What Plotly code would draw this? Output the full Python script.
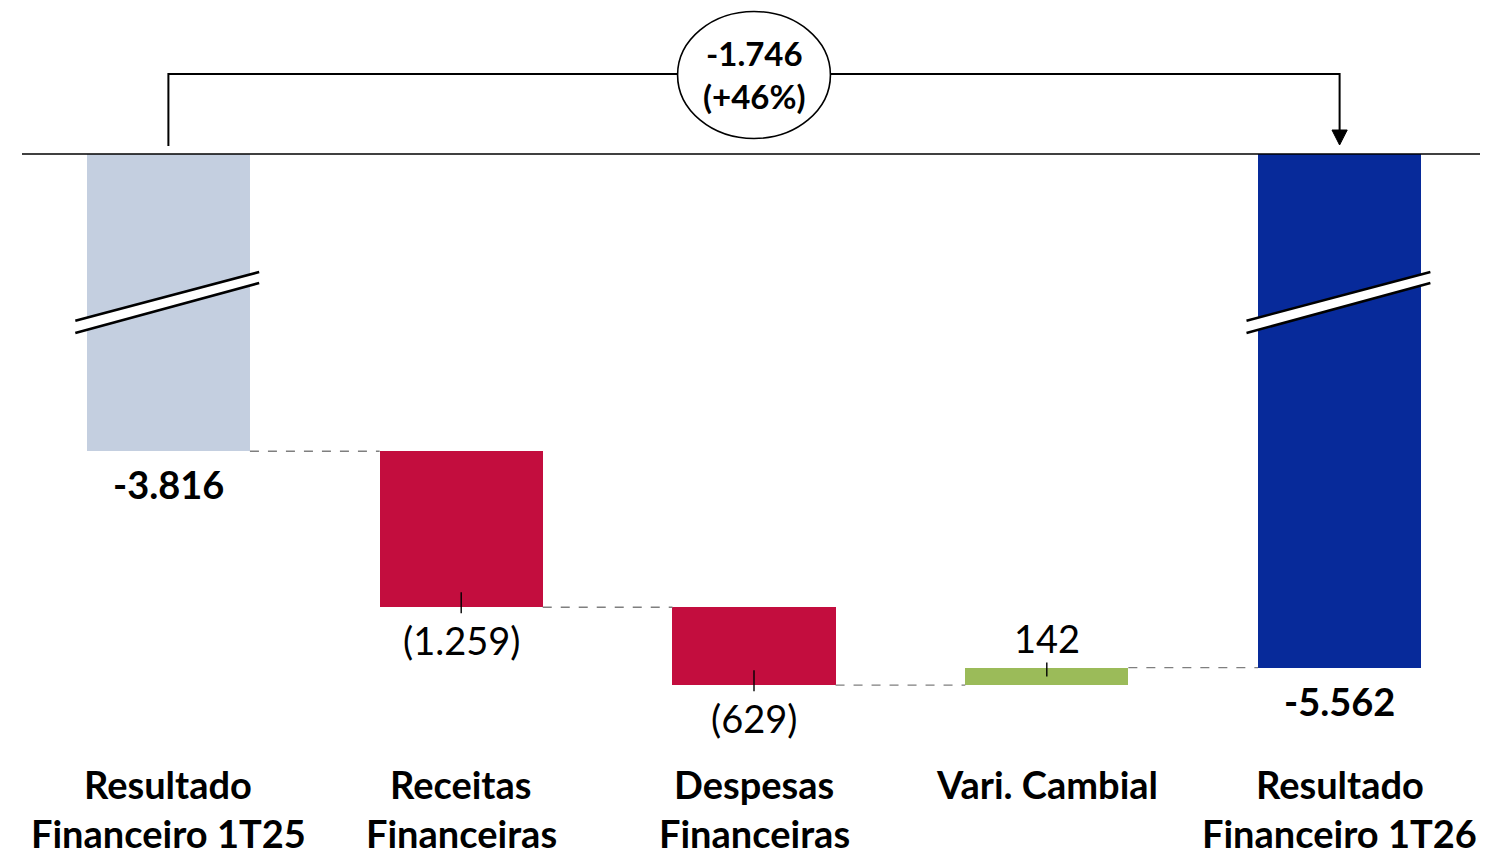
import plotly.graph_objects as go

# ---- data ----
categories = ["Resultado\nFinanceiro 1T25", "Receitas\nFinanceiras", "Despesas\nFinanceiras",
              "Vari. Cambial", "Resultado\nFinanceiro 1T26"]
start_total = -3816
deltas = [-1259, -629, 142]
end_total = -5562
value_labels = ["-3.816", "(1.259)", "(629)", "142", "-5.562"]
change_label = "-1.746<br>(+46%)"

colors = ["#C4CFE0", "#C30D3E", "#C30D3E", "#9BBB59", "#072A9A"]

# ---- axis break (hidden part of the total bars) ----
BREAK = 1417

OFF = 8  # page body margin
W, H = 1488 - OFF, 853 - OFF
ML, MR = 22 - OFF, 2
PX_PER_UNIT = 0.1239
ZERO_PX = 154 - OFF
y_max = ZERO_PX / PX_PER_UNIT
y_min = y_max - H / PX_PER_UNIT

def pp(p):  # page pixel row -> paper y
    return 1 - (p - OFF) / H

bar_w = 0.557

# build waterfall geometry from data
bases, heights = [], []
bases.append(0)
heights.append(start_total + BREAK)
level = start_total
levels = [level]
for d in deltas:
    bases.append(level + BREAK)
    heights.append(d)
    level += d
    levels.append(level)
bases.append(0)
heights.append(end_total + BREAK)
ends = [b + h for b, h in zip(bases, heights)]

xs = list(range(len(categories)))
fig = go.Figure()
fig.add_trace(go.Bar(x=xs, y=heights, base=bases, width=bar_w,
                     marker=dict(color=colors, line=dict(width=0)),
                     hoverinfo="skip", showlegend=False))

shapes = []
# zero line
shapes.append(dict(type="line", xref="paper", yref="y", x0=0, x1=1, y0=0, y1=0,
                   line=dict(color="black", width=1.6)))
# connectors
conn_levels = [l + BREAK for l in levels]
for i, lv in enumerate(conn_levels):
    shapes.append(dict(type="line", xref="x", yref="y", x0=i + bar_w / 2, x1=i + 1 - bar_w / 2,
                       y0=lv, y1=lv, line=dict(color="#7F7F7F", width=1.3, dash="dash")))
# small tick marks at bar ends of the deltas
for i, d in enumerate(deltas, start=1):
    if d < 0:
        y0, y1 = -6, 15
    else:
        y0, y1 = -9, 5
    shapes.append(dict(type="line", xref="x", yref="y", ysizemode="pixel", yanchor=ends[i],
                       x0=i, x1=i, y0=y0, y1=y1, line=dict(color="black", width=1.4)))
# break marks on total bars
for i in (0, 4):
    xl, xr = i - 0.318, i + 0.31
    shapes.append(dict(type="path", xref="x", yref="paper",
                       path=f"M {xl},{pp(320.7)} L {xr},{pp(272)} L {xr},{pp(283)} L {xl},{pp(333)} Z",
                       fillcolor="white", line=dict(width=0)))
    shapes.append(dict(type="line", xref="x", yref="paper", x0=xl, x1=xr, y0=pp(320.7), y1=pp(272),
                       line=dict(color="black", width=2.5)))
    shapes.append(dict(type="line", xref="x", yref="paper", x0=xl, x1=xr, y0=pp(333), y1=pp(283),
                       line=dict(color="black", width=2.5)))
# bracket
shapes.append(dict(type="path", xref="x", yref="paper",
                   path=f"M 0,{pp(146)} L 0,{pp(74)} L 4,{pp(74)} L 4,{pp(131)}",
                   line=dict(color="black", width=2)))
shapes.append(dict(type="path", xref="x", yref="paper",
                   path=f"M {4-0.026},{pp(130)} L {4+0.026},{pp(130)} L 4,{pp(145)} Z",
                   fillcolor="black", line=dict(color="black", width=1)))
# ellipse
shapes.append(dict(type="circle", xref="x", yref="paper", x0=2 - 0.261, x1=2 + 0.261,
                   y0=pp(138.5), y1=pp(11.5), fillcolor="white", line=dict(color="black", width=1.6)))

FONT = "Lato"
annotations = []
for i, (txt, e) in enumerate(zip(value_labels, ends)):
    bold = i in (0, 4)
    pos = heights[i] > 0
    annotations.append(dict(x=i, y=e, xref="x", yref="y", text=f"<b>{txt}</b>" if bold else txt,
                            showarrow=False, yanchor="middle", yshift=30 if pos else -33,
                            font=dict(family=FONT, size=38, color="black")))
for i, cat in enumerate(categories):
    lines = cat.split("\n")
    for j, ln in enumerate(lines):
        annotations.append(dict(x=i, y=pp(784 + 49 * j), xref="x", yref="paper", text=f"<b>{ln}</b>",
                                showarrow=False, yanchor="middle",
                                font=dict(family=FONT, size=38, color="black")))
annotations.append(dict(x=2, y=pp(75), xref="x", yref="paper", text=f"<b>{change_label}</b>",
                        showarrow=False, yanchor="middle",
                        font=dict(family=FONT, size=33, color="black")))

fig.update_layout(
    width=W, height=H,
    margin=dict(l=ML, r=MR, t=0, b=0, autoexpand=False),
    paper_bgcolor="white", plot_bgcolor="white",
    xaxis=dict(visible=False, range=[-0.5, 4.5], fixedrange=True),
    yaxis=dict(visible=False, range=[y_min, y_max], fixedrange=True),
    shapes=shapes, annotations=annotations, bargap=0,
)
fig.write_html("out.html")
